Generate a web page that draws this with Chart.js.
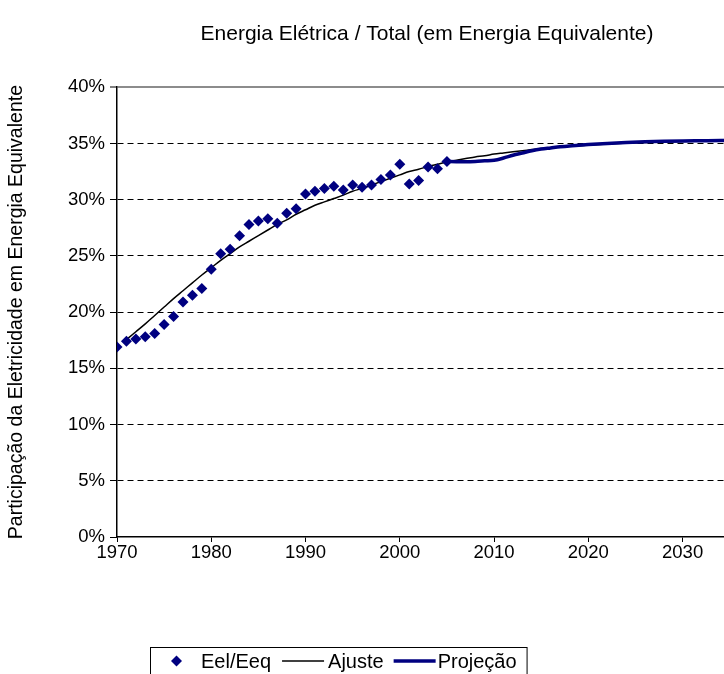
<!DOCTYPE html>
<html>
<head>
<meta charset="utf-8">
<script src="https://cdn.jsdelivr.net/npm/chart.js@4.4.0/dist/chart.umd.min.js"></script>
<style>
  html, body { margin: 0; padding: 0; overflow: hidden; background: #fff; }
  canvas { display: block; }
</style>
</head>
<body>
<canvas id="chart" width="854" height="674"></canvas>
<script>
// observed share of electricity (Eel/Eeq), %
const obsYears = [1970, 1971, 1972, 1973, 1974, 1975, 1976, 1977, 1978, 1979,
  1980, 1981, 1982, 1983, 1984, 1985, 1986, 1987, 1988, 1989,
  1990, 1991, 1992, 1993, 1994, 1995, 1996, 1997, 1998, 1999,
  2000, 2001, 2002, 2003, 2004, 2005];
const obsShare = [16.9, 17.4, 17.6, 17.8, 18.1, 18.9, 19.6, 20.9, 21.5, 22.1,
  23.8, 25.2, 25.6, 26.8, 27.8, 28.1, 28.3, 27.9, 28.8, 29.2,
  30.5, 30.75, 31.0, 31.2, 30.85, 31.3, 31.1, 31.3, 31.8, 32.2,
  33.15, 31.4, 31.7, 32.9, 32.75, 33.4];

// fitted curve (Ajuste)
const fitYears = [1971, 1972, 1973, 1974, 1975, 1976, 1977, 1978, 1979, 1980,
  1981, 1982, 1983, 1984, 1985, 1986, 1987, 1988, 1989, 1990,
  1991, 1992, 1993, 1994, 1995, 1996, 1997, 1998, 1999, 2000,
  2001, 2002, 2003, 2004, 2005, 2006, 2007, 2008, 2009, 2010,
  2011, 2012, 2013, 2014, 2015, 2016, 2017, 2018, 2019, 2020,
  2022, 2024, 2026, 2028, 2030, 2032, 2034, 2040, 2048];
const fitShare = [17.55, 18.25, 18.95, 19.7, 20.45, 21.2, 21.9, 22.6, 23.3, 23.95,
  24.6, 25.2, 25.8, 26.3, 26.8, 27.3, 27.8, 28.2, 28.7, 29.1,
  29.5, 29.8, 30.1, 30.4, 30.75, 31.0, 31.3, 31.6, 31.9, 32.2,
  32.5, 32.7, 32.95, 33.15, 33.35, 33.5, 33.65, 33.8, 33.9, 34.05,
  34.15, 34.25, 34.35, 34.45, 34.55, 34.6, 34.7, 34.75, 34.8, 34.85,
  34.95, 35.02, 35.08, 35.13, 35.17, 35.2, 35.23, 35.3, 35.35];

// projection (Projeção)
const projYears = [2005, 2006, 2007, 2008, 2009, 2010, 2011, 2012, 2013, 2014,
  2015, 2016, 2017, 2018, 2019, 2020, 2022, 2024, 2026, 2028,
  2030, 2032, 2034, 2040, 2048];
const projShare = [33.4, 33.38, 33.38, 33.4, 33.45, 33.5, 33.7, 33.95, 34.15, 34.35,
  34.5, 34.6, 34.7, 34.78, 34.84, 34.9, 35.0, 35.08, 35.14, 35.19,
  35.22, 35.24, 35.26, 35.3, 35.35];

const FONT = '"Liberation Sans", Arial, sans-serif';
const NAVY = '#000080';

const pts = (xs, ys) => xs.map((x, i) => ({ x: x, y: ys[i] }));

// legend in a box, like the spreadsheet one
const legendBox = {
  id: 'legendBox',
  afterDraw(chart) {
    const ctx = chart.ctx;
    const y = 661;
    ctx.save();
    ctx.font = '20px ' + FONT;
    ctx.textBaseline = 'middle';

    // diamond marker
    ctx.fillStyle = NAVY;
    ctx.beginPath();
    ctx.moveTo(176.5, y - 5.5);
    ctx.lineTo(182, y);
    ctx.lineTo(176.5, y + 5.5);
    ctx.lineTo(171, y);
    ctx.closePath();
    ctx.fill();

    ctx.fillStyle = '#000';
    let x = 201;
    ctx.fillText('Eel/Eeq', x, y + 1);
    x += ctx.measureText('Eel/Eeq').width + 11;

    ctx.strokeStyle = '#000';
    ctx.lineWidth = 1.5;
    ctx.beginPath();
    ctx.moveTo(x, y);
    ctx.lineTo(x + 42, y);
    ctx.stroke();
    x += 46;
    ctx.fillText('Ajuste', x, y + 1);
    x += ctx.measureText('Ajuste').width + 10;

    ctx.strokeStyle = NAVY;
    ctx.lineWidth = 3.5;
    ctx.beginPath();
    ctx.moveTo(x, y);
    ctx.lineTo(x + 42, y);
    ctx.stroke();
    x += 44;
    ctx.fillText('Projeção', x, y + 1);
    x += ctx.measureText('Projeção').width + 10;

    ctx.strokeStyle = '#000';
    ctx.lineWidth = 1;
    ctx.strokeRect(150.5, 647.5, x - 150, 40);
    ctx.restore();
  }
};

const chart = new Chart(document.getElementById('chart'), {
  type: 'scatter',
  data: {
    datasets: [
      {
        label: 'Eel/Eeq',
        data: pts(obsYears, obsShare),
        showLine: false,
        pointStyle: 'rectRot',
        pointRadius: 5.5,
        backgroundColor: NAVY,
        borderColor: NAVY,
        borderWidth: 0,
        order: 0
      },
      {
        label: 'Projeção',
        data: pts(projYears, projShare),
        showLine: true,
        borderColor: NAVY,
        borderWidth: 3.5,
        pointRadius: 0,
        cubicInterpolationMode: 'monotone',
        order: 1
      },
      {
        label: 'Ajuste',
        data: pts(fitYears, fitShare),
        showLine: true,
        borderColor: '#000',
        borderWidth: 1.5,
        pointRadius: 0,
        cubicInterpolationMode: 'monotone',
        order: 2
      }
    ]
  },
  options: {
    responsive: false,
    animation: false,
    layout: { padding: { left: 0, right: 0, top: 0, bottom: 106 } },
    plugins: {
      legend: { display: false },
      tooltip: { enabled: false },
      title: {
        display: true,
        text: 'Energia Elétrica / Total (em Energia Equivalente)',
        color: '#000',
        font: { family: FONT, size: 21, weight: 'normal' },
        padding: { top: 22, bottom: 40 }
      }
    },
    scales: {
      x: {
        type: 'linear',
        min: 1970,
        max: 2047.6,
        afterFit: (scale) => { scale.height = 31; },
        ticks: {
          stepSize: 10,
          includeBounds: false,
          autoSkip: false,
          maxRotation: 0,
          padding: 0,
          color: '#000',
          font: { family: FONT, size: 18.5 },
          callback: (v) => String(v)
        },
        grid: {
          drawOnChartArea: false,
          drawTicks: true,
          tickLength: 5,
          tickColor: '#000',
          tickWidth: 1
        },
        border: { display: true, color: '#000', width: 1.5 }
      },
      y: {
        min: 0,
        max: 40,
        afterFit: (scale) => { scale.width = 117; },
        ticks: {
          stepSize: 5,
          padding: 5,
          color: '#000',
          font: { family: FONT, size: 18.5 },
          callback: (v) => v + '%'
        },
        title: {
          display: true,
          text: 'Participação da Eletricidade em Energia Equivalente',
          color: '#000',
          font: { family: FONT, size: 19.5 },
          padding: { top: 5, bottom: 0 }
        },
        grid: {
          color: (c) => c.tick && c.tick.value === 40 ? '#8c8c8c'
            : (c.tick && c.tick.value === 0 ? 'rgba(0,0,0,0)' : '#000'),
          lineWidth: (c) => c.tick && c.tick.value === 40 ? 2 : 1,
          tickLength: 7,
          tickColor: '#000',
          tickWidth: 1
        },
        border: {
          display: true,
          color: '#000',
          width: 1.5,
          dash: (c) => c.tick && c.tick.value === 40 ? [] : [6, 4]
        }
      }
    }
  },
  plugins: [legendBox]
});
</script>
</body>
</html>
